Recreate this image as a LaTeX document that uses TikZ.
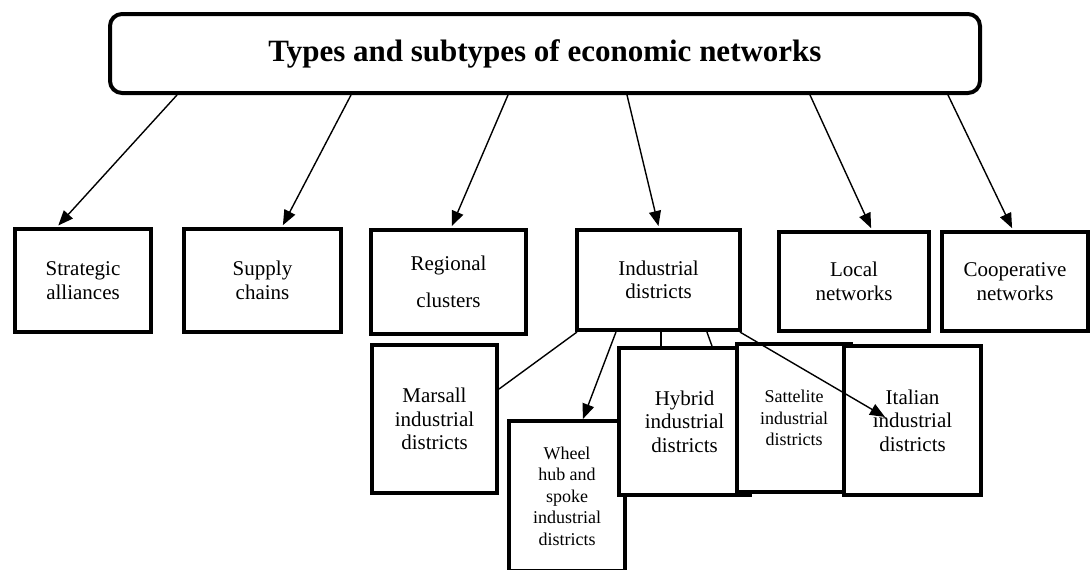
\documentclass[tikz,border=0pt]{standalone}
\usepackage{fontspec}
\setmainfont{Liberation Serif}
\usetikzlibrary{arrows.meta}
\begin{document}
\begin{tikzpicture}[x=1pt,y=-1pt,
  box/.style={draw=black, line width=4.3pt, fill=white, rectangle, inner sep=0pt, align=center, font=\fontsize{21}{23.5}\selectfont},
  smallbox/.style={box, font=\fontsize{18}{21.5}\selectfont},
  conn/.style={line width=1.4pt},
  arr/.style={conn, -{Triangle[length=15pt,width=12pt]}, shorten >=2pt},
  arrin/.style={conn, -{Triangle[length=15pt,width=12pt]}},
]
\useasboundingbox (0,0) rectangle (1090,570);
% title
\node[box, line width=4pt, rounded corners=12pt, minimum width=870pt, minimum height=79pt,
      font=\fontsize{31}{36}\selectfont\bfseries] (title) at (545,53.5) {Types and subtypes of economic networks};
% first row
\node[box, minimum width=135.8pt, minimum height=102.8pt] (sa) at (83,280.5) {Strategic\\alliances};
\node[box, minimum width=156.8pt, minimum height=102.8pt] (sc) at (262.5,280.5) {Supply\\chains};
\node[box, minimum width=154.8pt, minimum height=103.8pt] (rc) at (448.5,282) {Regional\\[14pt]clusters};
\node[box, minimum width=162.8pt, minimum height=99.8pt] (id) at (658.5,280) {Industrial\\districts};
\node[box, minimum width=149.8pt, minimum height=98.8pt] (ln) at (854,281.5) {Local\\networks};
\node[box, minimum width=145.8pt, minimum height=98.8pt] (cn) at (1015,281.5) {Cooperative\\networks};
% arrows from title
\draw[arr] ([xshift=69pt]title.south west) -- ([xshift=44pt]sa.north west);
\draw[arr] ([xshift=243pt]title.south west) -- ([xshift=100pt]sc.north west);
\draw[arr] ([xshift=400pt]title.south west) -- ([xshift=82pt]rc.north west);
\draw[arr] ([xshift=519pt]title.south west) -- ([xshift=84pt]id.north west);
\draw[arr] ([xshift=702pt]title.south west) -- ([xshift=95pt]ln.north west);
\draw[arr] ([xshift=840pt]title.south west) -- ([xshift=73pt]cn.north west);
% second row boxes
\node[box, minimum width=124.8pt, minimum height=147.8pt] (md) at (434.5,419) {Marsall\\industrial\\districts};
\node[smallbox, minimum width=115.8pt, minimum height=149.8pt] (wh) at (567,496) {Wheel\\hub and\\spoke\\industrial\\districts};
\node[box, minimum width=130.8pt, minimum height=146.8pt] (hy) at (684.5,421.5) {Hybrid\\industrial\\districts};
\node[smallbox, minimum width=113.8pt, minimum height=147.8pt] (st) at (794,418) {Sattelite\\industrial\\districts};
\node[box, minimum width=136.8pt, minimum height=148.8pt] (it) at (912.5,420.5) {Italian\\industrial\\districts};
\coordinate (ittip) at (885,417);
% connectors from industrial districts
\draw[conn] ([xshift=2pt]id.south west) -- ([yshift=30pt]md.east);
\draw[arrin] ([xshift=41pt]id.south west) -- ([xshift=76pt]wh.north west);
\draw[conn] ([xshift=86pt]id.south west) -- ([xshift=44pt]hy.north west);
\draw[conn] ([xshift=132pt]id.south west) -- ([xshift=95pt]hy.north west);
\draw[arrin] ([xshift=165pt]id.south west) -- (ittip);
\end{tikzpicture}
\end{document}
